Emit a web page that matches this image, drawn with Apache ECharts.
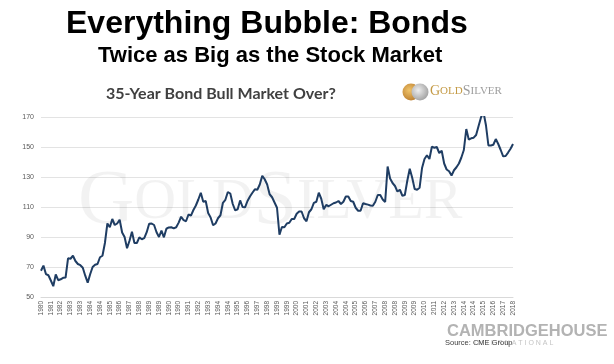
<!DOCTYPE html>
<html>
<head>
<meta charset="utf-8">
<script src="https://cdn.jsdelivr.net/npm/echarts@6/dist/echarts.min.js"></script>
<style>
html,body{margin:0;padding:0;background:#fff;}
#chart{width:614px;height:364px;}
</style>
</head>
<body>
<div id="chart"></div>
<script>
// Tick labels shown on the x axis (one every 4 data points)
const tickYears = ['1980','1981','1982','1983','1983','1984','1984','1985','1986','1987','1988','1989','1989','1990','1990','1991','1992','1993','1994','1994','1995','1996','1997','1998','1999','1999','2000','2001','2002','2003','2004','2004','2005','2006','2007','2008','2008','2009','2009','2010','2011','2012','2013','2014','2014','2015','2016','2017','2018'];
const yTicks = [50, 70, 90, 110, 130, 150, 170];
// Bond futures price
const bondPrice = [
67.5,70.9,65.3,64.5,61,57.2,65,61.2,61.8,62.8,
63,75.8,75.5,77.5,74,72,71.2,69.5,64.2,59.6,
65.2,70,71.5,72,76.5,77.5,86,99,96.5,102,
98,99,101.5,93,90,82.5,87.5,93.5,86,86,
89.8,88.5,89.2,93.2,98.8,99,98,93.2,90,94.2,
89.8,95.5,96.4,96.5,95.8,96.5,99.6,103.5,101.2,100.5,
105,104.2,108,111,115,119.5,113.5,114,106,103,
97.8,99,102.5,104.5,112.8,114.8,120,119,112,107.8,
108.5,114.4,110,109.8,114,117,119.5,121.8,121.5,125,
130.8,128.5,125,118.5,116.5,113,109.5,91.5,96.7,96.5,
99,99.5,102,102,105.5,107,107,102.5,100.5,106.5,
108.5,112.8,113.5,119.5,115.5,108.5,111.4,110.5,111.5,112.5,
113,114,112,113.5,117,117,114,113.5,109.5,107.5,
107.5,112.5,112,111.6,111,110.8,113.5,118,118,115,
113.3,137,129,126,124,120.3,121.5,117.5,118,127.5,
135.5,129.5,122,121.5,122.8,136,142,144.5,142,150.2,
149.5,150,146,147.5,139,135,133.8,131,134.5,136.5,
139,143,148,162,155,155.8,156.2,158,164,169.8,
173.2,164.5,151,151,151.5,155.3,152,148,143.8,144,
146.3,148.8,152
];
const labelEvery = 4;
const categories = bondPrice.map((_, i) => String(i));

const chart = echarts.init(document.getElementById('chart'), null, {renderer: 'canvas'});
chart.setOption({
  backgroundColor: '#ffffff',
  animation: false,
  grid: {left: 41, right: 101, top: 117, bottom: 67, containLabel: false},
  xAxis: {
    type: 'category',
    data: categories,
    boundaryGap: false,
    axisLine: {show: true, lineStyle: {color: '#d9d9d9', width: 1}},
    axisTick: {show: false},
    axisLabel: {
      interval: labelEvery - 1,
      rotate: 90,
      margin: 4,
      fontSize: 6.5,
      color: '#595959',
      fontFamily: 'Liberation Sans',
      formatter: (v, idx) => (idx % labelEvery === 0 ? tickYears[idx / labelEvery] : '')
    },
    splitLine: {show: false}
  },
  yAxis: {
    type: 'value',
    min: yTicks[0],
    max: yTicks[yTicks.length - 1],
    interval: yTicks[1] - yTicks[0],
    axisLine: {show: false},
    axisTick: {show: false},
    axisLabel: {fontSize: 7, color: '#595959', margin: 7, fontFamily: 'Liberation Sans'},
    splitLine: {lineStyle: {color: '#e3e3e3', width: 1}}
  },
  graphic: [
    {type: 'text', z: 10, left: 66, top: 8, style: {text: 'Everything Bubble: Bonds', font: 'bold 32px "Liberation Sans", Arial, sans-serif', fill: '#000'}},
    {type: 'text', z: 10, left: 98, top: 45, style: {text: 'Twice as Big as the Stock Market', font: 'bold 22px "Liberation Sans", Arial, sans-serif', fill: '#000'}},
    {type: 'text', z: 10, left: 106, top: 86, style: {text: '35-Year Bond Bull Market Over?', font: 'bold 16px Lato, "Open Sans", sans-serif', fill: '#404040'}},
    // watermark
    {type: 'text', z: 1, left: 78, top: 164, style: {text: '{b|G}{s|OLD}{b|S}{s|ILVER}', rich: {b: {fontSize: 78, fontFamily: '"Liberation Serif", serif', fill: 'rgba(0,0,0,0.05)'}, s: {fontSize: 58, fontFamily: '"Liberation Serif", serif', fill: 'rgba(0,0,0,0.05)'}}}},
    // gold silver logo
    {type: 'circle', z: 10, shape: {cx: 411, cy: 92, r: 8.5}, style: {fill: {type: 'radial', x: 0.4, y: 0.4, r: 0.7, colorStops: [{offset: 0, color: '#f0c46a'}, {offset: 1, color: '#b7782a'}]}}},
    {type: 'circle', z: 11, shape: {cx: 420, cy: 92, r: 8.5}, style: {fill: {type: 'radial', x: 0.4, y: 0.4, r: 0.7, colorStops: [{offset: 0, color: '#eeeeee'}, {offset: 1, color: '#9a9a9a'}]}}},
    {type: 'text', z: 10, left: 430, top: 84, style: {text: '{g1|G}{g2|OLD}{s1|S}{s2|ILVER}', rich: {g1: {fontSize: 14, fontFamily: '"Liberation Serif", serif', fill: '#c49a45'}, g2: {fontSize: 11, fontFamily: '"Liberation Serif", serif', fill: '#c49a45'}, s1: {fontSize: 14, fontFamily: '"Liberation Serif", serif', fill: '#9d9d9d'}, s2: {fontSize: 11, fontFamily: '"Liberation Serif", serif', fill: '#9d9d9d'}}}},
    // footer
    {type: 'text', z: 10, left: 447, top: 323, style: {text: 'CAMBRIDGEHOUSE', font: 'bold 16.5px "Liberation Sans", Arial, sans-serif', fill: '#b3b3b3'}},
    {type: 'text', z: 10, left: 474, top: 340, style: {text: 'I N T E R N A T I O N A L', font: '7px "Liberation Sans", Arial, sans-serif', fill: '#c4c4c4'}},
    {type: 'text', z: 12, left: 445, top: 339, style: {text: 'Source: CME Group', font: '7.5px "Liberation Sans", sans-serif', fill: '#404040'}}
  ],
  series: [{
    type: 'line',
    data: bondPrice,
    showSymbol: false,
    symbol: 'none',
    z: 5,
    lineStyle: {color: '#1f3d63', width: 2},
    emphasis: {disabled: true}
  }]
});
</script>
</body>
</html>
